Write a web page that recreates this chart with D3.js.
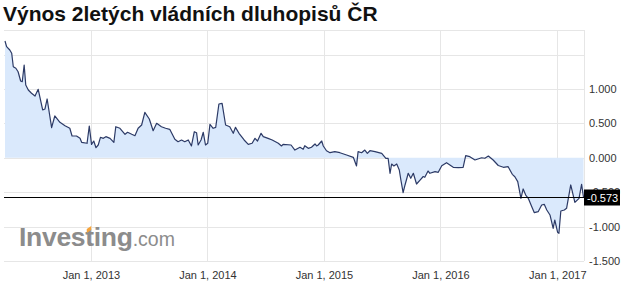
<!DOCTYPE html>
<html><head><meta charset="utf-8">
<script src="https://cdn.jsdelivr.net/npm/d3@7/dist/d3.min.js"></script>
<style>body{margin:0;background:#fff}svg{display:block}</style>
</head><body>
<svg id="c" width="621" height="286"></svg>
<script>
const title = "Výnos 2letých vládních dluhopisů ČR";
const dates = ["2012-04-07","2012-04-12","2012-04-22","2012-04-28","2012-05-03","2012-05-11","2012-05-18","2012-05-26","2012-05-31","2012-06-06","2012-06-11","2012-06-19","2012-06-29","2012-07-10","2012-07-20","2012-08-03","2012-08-10","2012-08-17","2012-08-31","2012-09-10","2012-09-26","2012-10-12","2012-10-27","2012-11-03","2012-11-17","2012-11-28","2012-12-03","2012-12-20","2012-12-27",
"2013-01-03","2013-01-10","2013-01-17","2013-01-24","2013-01-31","2013-02-09","2013-02-17","2013-03-02","2013-03-14","2013-03-20","2013-04-02","2013-04-18","2013-04-26","2013-05-09","2013-05-19","2013-05-29","2013-06-09","2013-06-19","2013-07-03","2013-07-15","2013-07-26","2013-08-10","2013-08-23","2013-09-05","2013-09-21","2013-10-01","2013-10-12","2013-10-22","2013-11-02","2013-11-12","2013-11-21","2013-11-28","2013-12-03","2013-12-12","2013-12-19","2013-12-26",
"2014-01-02","2014-01-09","2014-01-19","2014-01-27","2014-02-06","2014-02-16","2014-02-27","2014-03-12","2014-03-23","2014-03-30","2014-04-10","2014-04-26","2014-05-09","2014-05-21","2014-05-30","2014-06-07","2014-06-18","2014-06-25","2014-07-10","2014-07-23","2014-08-11","2014-08-21","2014-08-26","2014-09-20","2014-10-02","2014-10-18","2014-10-28","2014-11-02","2014-11-13","2014-11-23","2014-12-04","2014-12-09","2014-12-14","2014-12-25","2014-12-30",
"2015-01-09","2015-01-20","2015-02-04","2015-02-20","2015-03-13","2015-04-03","2015-04-13","2015-04-18","2015-04-29","2015-05-09","2015-05-17","2015-05-25","2015-06-10","2015-07-01","2015-07-14","2015-07-21","2015-07-27","2015-08-01","2015-08-08","2015-08-17","2015-08-25","2015-08-30","2015-09-06","2015-09-12","2015-09-22","2015-09-30","2015-10-08","2015-10-18","2015-10-29","2015-11-08","2015-11-13","2015-11-23","2015-11-29","2015-12-15","2015-12-25",
"2016-01-05","2016-01-20","2016-02-10","2016-02-26","2016-03-12","2016-03-20","2016-04-02","2016-04-18","2016-05-09","2016-05-19","2016-05-30","2016-06-14","2016-06-30","2016-07-16","2016-07-31","2016-08-13","2016-08-21","2016-08-30","2016-09-09","2016-09-16","2016-09-24","2016-10-02","2016-10-13","2016-10-21","2016-11-02","2016-11-13","2016-11-21","2016-11-29","2016-12-09","2016-12-19","2016-12-24",
"2017-01-02","2017-01-06","2017-01-12","2017-01-23","2017-01-30","2017-02-12","2017-02-25","2017-03-10","2017-03-18","2017-03-24"];
const yields = [1.698,1.615,1.567,1.519,1.324,1.301,1.251,1.116,1.106,1.349,1.058,0.985,0.938,0.898,0.996,0.695,0.709,0.855,0.438,0.608,0.516,0.467,0.429,0.317,0.317,0.283,0.225,0.211,0.462,
0.196,0.244,0.147,0.186,0.298,0.283,0.307,0.283,0.225,0.452,0.429,0.342,0.371,0.342,0.321,0.429,0.477,0.661,0.564,0.394,0.501,0.452,0.429,0.414,0.269,0.234,0.259,0.234,0.259,0.172,0.379,0.365,0.186,0.259,0.371,0.186,
0.211,0.487,0.429,0.443,0.782,0.792,0.477,0.452,0.356,0.443,0.356,0.259,0.196,0.211,0.283,0.244,0.356,0.307,0.283,0.259,0.211,0.172,0.196,0.186,0.113,0.153,0.124,0.176,0.138,0.153,0.201,0.172,0.186,0.244,0.172,
0.103,0.074,0.089,0.074,0.041,0.007,-0.119,0.089,0.074,0.113,0.065,0.103,0.089,0.065,-0.007,-0.007,-0.225,-0.090,-0.119,-0.090,-0.177,-0.323,-0.507,-0.395,-0.225,-0.298,-0.225,-0.381,-0.323,-0.272,-0.283,-0.192,-0.225,-0.202,-0.211,
-0.115,-0.071,-0.138,-0.144,-0.138,0.031,0.016,-0.032,0.001,-0.007,0.026,-0.032,-0.112,-0.138,-0.129,-0.240,-0.275,-0.347,-0.589,-0.453,-0.541,-0.589,-0.711,-0.798,-0.783,-0.686,-0.676,-0.759,-0.831,-1.025,-0.904,
-1.083,-1.097,-0.773,-0.759,-0.734,-0.395,-0.647,-0.589,-0.385,-0.573];
const yTickLabels = [1, 0.5, 0, -0.5, -1, -1.5];
const yGridValues = [1.5, 1, 0.5, 0, -0.5, -1, -1.5];
const lastValue = -0.573;

const parse = d3.utcParse("%Y-%m-%d");
const data = dates.map((d, i) => ({date: parse(d), v: yields[i]}));

const svg = d3.select("#c");
const plot = {left: 4, right: 584, top: 30, bottom: 261};
const x = d3.scaleUtc().domain(d3.extent(data, d => d.date)).range([5, 583.5]);
const y = d3.scaleLinear().domain([-1.5, 1.5]).range([261, 54.6]);
const grid = "#e6e6e6";
const font = "'Liberation Sans', Arial, sans-serif";

// title
svg.append("text").attr("x", 3).attr("y", 21)
  .attr("font-family", font).attr("font-weight", "bold").attr("font-size", 21)
  .attr("fill", "#111").text(title);

// grid
const yearTicks = x.ticks(d3.utcYear.every(1));
svg.append("g").selectAll("line").data(yGridValues).join("line")
  .attr("x1", plot.left).attr("x2", plot.right)
  .attr("y1", d => Math.round(y(d)) + 0.5).attr("y2", d => Math.round(y(d)) + 0.5)
  .attr("stroke", grid);
svg.append("g").selectAll("line").data(yearTicks).join("line")
  .attr("x1", d => Math.round(x(d)) + 0.5).attr("x2", d => Math.round(x(d)) + 0.5)
  .attr("y1", plot.top).attr("y2", plot.bottom)
  .attr("stroke", grid);
svg.append("line").attr("x1", plot.left).attr("x2", plot.right)
  .attr("y1", plot.top + 0.5).attr("y2", plot.top + 0.5).attr("stroke", grid);
svg.append("line").attr("x1", plot.right + 0.5).attr("x2", plot.right + 0.5)
  .attr("y1", plot.top).attr("y2", plot.bottom).attr("stroke", grid);

// logo
const logo = svg.append("text").attr("x", 19).attr("y", 246)
  .attr("font-family", font).attr("fill", "#8c8c8c");
logo.append("tspan").attr("font-weight", "bold").attr("font-size", 26.5).attr("letter-spacing", -0.3).text("Investing");
logo.append("tspan").attr("font-size", 19.5).text(".com");
const tNode = logo.node();
const tx = tNode.getStartPositionOfChar(5).x;
svg.append("path")
  .attr("d", `M${tx + 1.5},${246 - 17} L${tx + 6},${246 - 20} L${tx + 6},${246 - 16} L${tx + 1.5},${246 - 13} Z`)
  .attr("fill", "#f5a33a");

// area + line
const area = d3.area().x(d => x(d.date)).y0(y(0)).y1(d => y(d.v));
svg.append("path").datum(data).attr("d", area).attr("fill", "#dae9fc");
const line = d3.line().x(d => x(d.date)).y(d => y(d.v));
svg.append("path").datum(data).attr("d", line).attr("fill", "none")
  .attr("stroke", "#2c3a66").attr("stroke-width", 1.2).attr("stroke-linejoin", "round");

// y axis labels
const loc = d3.formatLocale({decimal: ".", thousands: ",", grouping: [3], currency: ["", ""], minus: "-"});
const fmt = loc.format(".3f");
const yAxis = d3.axisRight(y).tickValues(yTickLabels).tickFormat(fmt).tickSize(0).tickPadding(5);
const gy = svg.append("g").attr("transform", `translate(${plot.right},0)`).call(yAxis);
gy.select(".domain").remove();
gy.selectAll("text").attr("font-family", font).attr("font-size", 11).attr("fill", "#333");

// x axis labels
const xAxis = d3.axisBottom(x).ticks(d3.utcYear.every(1)).tickFormat(d3.utcFormat("%b %-d, %Y")).tickSize(0).tickPadding(10);
const gx = svg.append("g").attr("transform", `translate(0,${plot.bottom})`).call(xAxis);
gx.select(".domain").remove();
gx.selectAll("text").attr("font-family", font).attr("font-size", 11).attr("fill", "#333");

// current value line & label
const yl = Math.round(y(lastValue)) + 0.5;
svg.append("line").attr("x1", plot.left).attr("x2", plot.right).attr("y1", yl).attr("y2", yl)
  .attr("stroke", "#000").attr("stroke-width", 1);
svg.append("rect").attr("x", plot.right).attr("y", yl - 8).attr("width", 36).attr("height", 16).attr("fill", "#000");
svg.append("text").attr("x", plot.right + 3).attr("y", yl + 4)
  .attr("font-family", font).attr("font-size", 11).attr("fill", "#fff").text(fmt(lastValue));
</script>
</body></html>
